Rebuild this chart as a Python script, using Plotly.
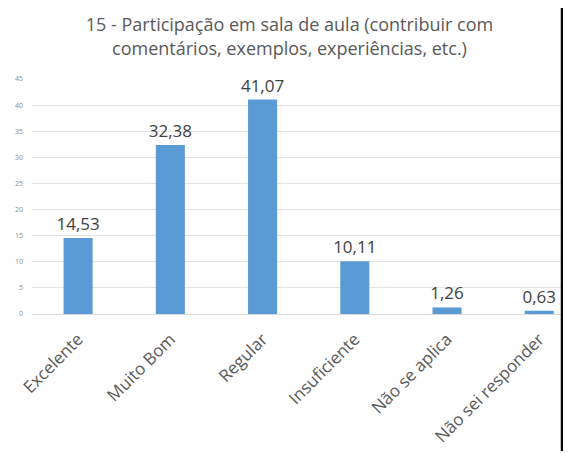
import plotly.graph_objects as go

categories = ["Excelente", "Muito Bom", "Regular", "Insuficiente", "Não se aplica", "Não sei responder"]
values = [14.53, 32.38, 41.07, 10.11, 1.26, 0.63]
y_ticks = [0, 5, 10, 15, 20, 25, 30, 35, 40, 45]

fig = go.Figure(go.Bar(
    x=list(range(len(categories))),
    y=values,
    width=0.315,
    marker=dict(color="#5b9bd5", line=dict(width=0)),
    texttemplate="%{y:.2f}",
    textposition="outside",
    constraintext="none",
    textfont=dict(size=17, color="#404040", family="Open Sans"),
    cliponaxis=False,
))

fig.update_layout(
    width=563, height=443,
    margin=dict(l=24, r=5, t=71, b=137, autoexpand=False),
    paper_bgcolor="white", plot_bgcolor="white",
    separators=", ",
    showlegend=False,
    title=dict(
        text="15 - Participação em sala de aula (contribuir com<br>comentários, exemplos, experiências, etc.)",
        x=0.5, xanchor="center", y=0.947, yanchor="middle",
        font=dict(size=18, color="#595959", family="Open Sans"),
    ),
)
fig.update_xaxes(
    range=[-0.5, 5.29],
    tickmode="array", tickvals=list(range(len(categories))), ticktext=categories,
    tickangle=-45,
    tickfont=dict(size=17, color="#595959", family="Open Sans"),
    showgrid=False, showline=False, ticks="", zeroline=False,
    ticklabelstandoff=11, automargin=False,
)
fig.update_yaxes(
    range=[0, 45],
    tickmode="array", tickvals=y_ticks,
    tickfont=dict(size=7, color="#8c8c8c", family="Open Sans"),
    showgrid=True, gridcolor="#e3e3e3", gridwidth=1,
    zeroline=True, zerolinecolor="#d9d9d9", zerolinewidth=1,
    showline=False, ticks="", ticklabelstandoff=8, automargin=False,
)
fig.add_shape(type="line", xref="paper", yref="paper",
              x0=0.993, x1=0.993, y0=-0.7, y1=1.4,
              line=dict(color="black", width=3))

fig.write_html("out.html")
